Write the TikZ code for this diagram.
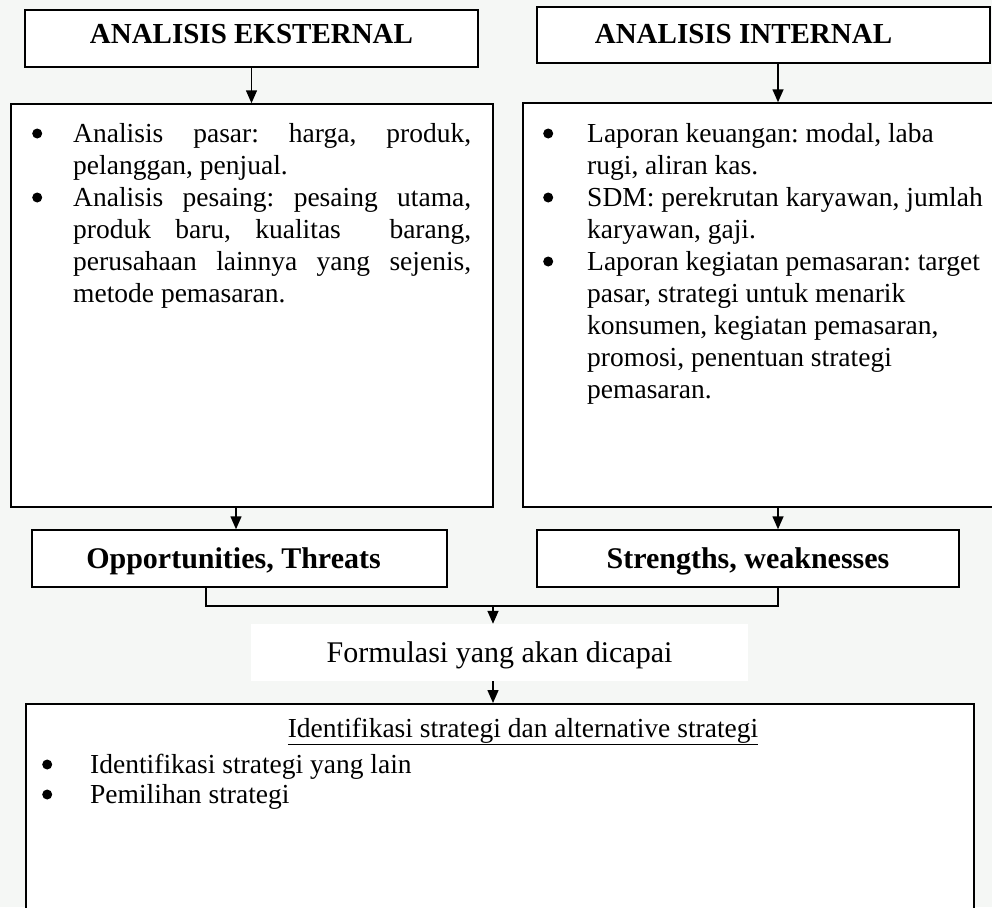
\documentclass[tikz,border=0pt]{standalone}
\usepackage{fontspec}
\setmainfont{Liberation Serif}
\usetikzlibrary{arrows.meta}
\definecolor{bgc}{RGB}{245,247,245}
\frenchspacing
\newcommand\jline[1]{\makebox[398pt][s]{#1}}
\newcommand\bul{\tikz[baseline=0pt, x=1pt, y=1pt]\fill[black] (5,8.5) circle[radius=5pt];}
\newcommand\bl[1]{\makebox[#1][l]{\bul}}
\newcommand\ind[1]{\hspace*{#1}}
\begin{document}
\begin{tikzpicture}[x=1pt,y=-1pt,
  box/.style={draw, line width=1.5pt, fill=white, inner sep=0pt},
  hd/.style={font=\fontsize{29}{34}\selectfont\bfseries},
  hdb/.style={font=\fontsize{30}{34}\selectfont\bfseries},
  body/.style={font=\fontsize{27.5}{32}\selectfont, inner sep=0pt},
  conn/.style={line width=1.5pt},
  arr/.style={line width=1.5pt, -{Triangle[width=11pt,length=13pt]}}]
\useasboundingbox (0,0) rectangle (992,907);
\clip (0,0) rectangle (992,907);
\fill[bgc] (0,0) rectangle (992,907);

% top boxes
\node[box, hd, minimum width=453pt, minimum height=57pt, text height=20pt, text depth=9pt] (ext) at (251.5,38.5) {ANALISIS EKSTERNAL};
\node[box, hd, minimum width=453pt, minimum height=56pt, text height=20pt, text depth=2.5pt] (int) at (763.5,35) {\hspace*{-40pt}ANALISIS INTERNAL};

% big boxes
\node[box, minimum width=482pt, minimum height=403pt] (extbox) at (252,305.5) {};
\node[box, minimum width=520pt, minimum height=404pt] (intbox) at (783,305) {};

\node[body, anchor=base west] (exttxt) at (32,142) {\parbox[t]{440pt}{\fontsize{27.5}{32}\selectfont
\bl{41pt}\jline{Analisis pasar: harga, produk,}\\
\ind{41pt}pelanggan, penjual.\\
\bl{41pt}\jline{Analisis pesaing: pesaing utama,}\\
\ind{41pt}\jline{produk baru, kualitas~ barang,}\\
\ind{41pt}\jline{perusahaan lainnya yang sejenis,}\\
\ind{41pt}metode pemasaran.}};

\node[body, anchor=base west] (inttxt) at (543,142) {\parbox[t]{446pt}{\fontsize{27.5}{32}\selectfont
\bl{44pt}Laporan keuangan: modal, laba\\
\ind{44pt}rugi, aliran kas.\\
\bl{44pt}SDM: perekrutan karyawan, jumlah\\
\ind{44pt}karyawan, gaji.\\
\bl{44pt}Laporan kegiatan pemasaran: target\\
\ind{44pt}pasar, strategi untuk menarik\\
\ind{44pt}konsumen, kegiatan pemasaran,\\
\ind{44pt}promosi, penentuan strategi\\
\ind{44pt}pemasaran.}};

% SWOT boxes
\node[box, hdb, minimum width=415pt, minimum height=57pt, text height=20pt, text depth=0pt] (opp) at (239.5,558.5) {Opportunities, Threats\hspace*{12pt}};
\node[box, hdb, minimum width=422pt, minimum height=57pt, text height=20pt, text depth=0pt] (sw) at (748,558.5) {Strengths, weaknesses};

% formulation
\node[fill=white, inner sep=0pt, minimum width=497pt, minimum height=57pt, font=\fontsize{30}{34}\selectfont, text height=20pt, text depth=0pt] (form) at (499.5,652.5) {Formulasi yang akan dicapai};

% bottom box
\node[box, anchor=north west, minimum width=948pt, minimum height=300pt] (strat) at (25,703) {};
\node[body, anchor=base] (strathd) at (523,737) {\underline{Identifikasi strategi dan alternative strategi}};
\node[body, anchor=base west] (stratlist) at (42,773) {\parbox[t]{600pt}{\fontsize{27.5}{30}\selectfont
\bl{48pt}Identifikasi strategi yang lain\\
\bl{48pt}Pemilihan strategi}};

% connectors
\coordinate (bx) at (778,0);
\coordinate (cx) at (236,0);
\coordinate (j1) at (206,606);
\coordinate (j2) at (778,606);
\coordinate (jm) at (493,606);
\draw[arr] (ext.south) -- (ext.south |- extbox.north);
\draw[arr] (int.south -| bx) -- (intbox.north -| bx);
\draw[arr] (extbox.south -| cx) -- (opp.north -| cx);
\draw[arr] (intbox.south -| bx) -- (sw.north -| bx);
\draw[conn] (opp.south -| j1) -- (j1) -- (j2) -- (sw.south -| j2);
\draw[arr] (jm) -- (form.north -| jm);
\draw[arr] (form.south -| jm) -- (strat.north -| jm);
\end{tikzpicture}
\end{document}
